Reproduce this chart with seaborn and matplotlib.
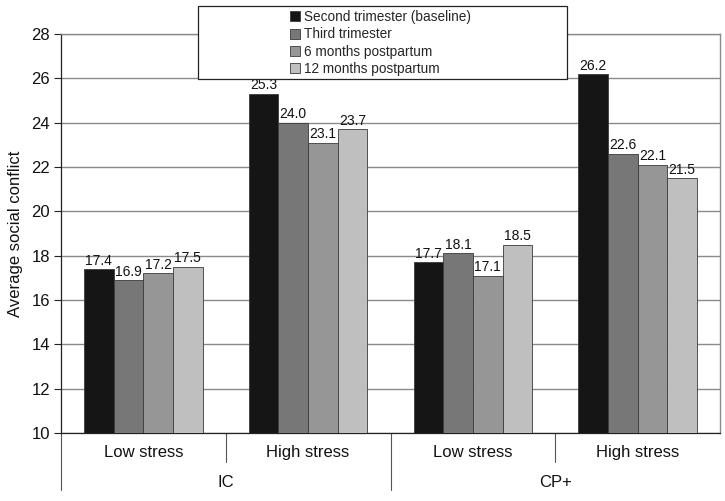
import matplotlib
matplotlib.use("Agg")
import matplotlib.pyplot as plt
import matplotlib.transforms as mtransforms
from matplotlib.patches import Rectangle
import seaborn as sns
import pandas as pd

# ---- data ----
groups = ["IC", "CP+"]
stress_levels = ["Low stress", "High stress"]
timepoints = ["Second trimester (baseline)", "Third trimester",
              "6 months postpartum", "12 months postpartum"]
ic_low = [17.4, 16.9, 17.2, 17.5]
ic_high = [25.3, 24.0, 23.1, 23.7]
cp_low = [17.7, 18.1, 17.1, 18.5]
cp_high = [26.2, 22.6, 22.1, 21.5]
y_ticks = [10, 12, 14, 16, 18, 20, 22, 24, 26, 28]
colors = ["#151515", "#777777", "#969696", "#bfbfbf"]

series = {("IC", "Low stress"): ic_low, ("IC", "High stress"): ic_high,
          ("CP+", "Low stress"): cp_low, ("CP+", "High stress"): cp_high}
rows = []
order = []
for g in groups:
    for s in stress_levels:
        key = f"{g} | {s}"
        order.append(key)
        for t, v in zip(timepoints, series[(g, s)]):
            rows.append({"cat": key, "time": t, "value": v})
df = pd.DataFrame(rows)

sns.set_theme(style="white")
plt.rcParams["font.family"] = ["Liberation Sans", "DejaVu Sans"]

fig = plt.figure(figsize=(7.25, 5.01), dpi=100)
ax = fig.add_axes([61/725, 1-433/501, (720-61)/725, (433-34)/501])

sns.barplot(data=df, x="cat", y="value", hue="time", order=order,
            hue_order=timepoints, palette=colors, width=0.72, gap=0,
            edgecolor="#3a3a3a", linewidth=0.6, ax=ax, legend=True, zorder=3)

for c in ax.containers:
    ax.bar_label(c, fmt="%.1f", padding=1, fontsize=10, color="#111111")

ax.set_ylim(10, 28)
ax.set_yticks(y_ticks)
ax.tick_params(axis="y", labelsize=12, length=5, width=0.8, color="#222222",
               left=True, pad=3, labelcolor="#111111")
ax.yaxis.grid(True, color="#8a8a8a", linewidth=1.0, zorder=0)
ax.set_axisbelow(True)
ax.set_xticks(range(len(order)))
ax.set_xticklabels([])
ax.tick_params(axis="x", length=0)
ax.set_xlabel("")
ax.set_ylabel("Average social conflict", fontsize=12, labelpad=6,
              color="#111111")
ax.set_xlim(-0.5, 3.5)

for sp in ["top", "right"]:
    ax.spines[sp].set_color("#8a8a8a")
    ax.spines[sp].set_linewidth(1.0)
for sp in ["left", "bottom"]:
    ax.spines[sp].set_color("#222222")
    ax.spines[sp].set_linewidth(0.9)

# two-level category axis
trans = mtransforms.blended_transform_factory(ax.transData, ax.transAxes)
sub_y = -0.048
grp_y = -0.123
for i, key in enumerate(order):
    ax.text(i, sub_y, key.split(" | ")[1], transform=trans, ha="center",
            va="center", fontsize=12, color="#111111")
for j, g in enumerate(groups):
    ax.text(2*j + 0.5, grp_y, g, transform=trans, ha="center", va="center",
            fontsize=12, color="#111111")
for x in [0.5, 2.5]:
    ax.plot([x, x], [0, -0.0727], transform=trans, color="#555555",
            linewidth=0.8, clip_on=False)
for x in [-0.5, 1.5]:
    ax.plot([x, x], [0, -0.143], transform=trans, color="#555555",
            linewidth=0.8, clip_on=False)

# legend with box
leg = ax.legend(loc="upper left", bbox_to_anchor=(280/725, 1-0.5/501),
                bbox_transform=fig.transFigure, frameon=False, fontsize=9.8,
                handlelength=0.75, handleheight=0.75, handletextpad=0.35,
                labelspacing=0.24, borderpad=0.2, title=None)
for h in leg.legend_handles:
    h.set_edgecolor("#3a3a3a")
    h.set_linewidth(0.6)
leg.set_zorder(10)
box = Rectangle((198/725, 1-79/501), (567-198)/725, (79-6)/501,
                transform=fig.transFigure, facecolor="white",
                edgecolor="#222222", linewidth=0.9, zorder=9)
fig.patches.append(box)
leg.remove()
fig.legends.append(leg)
leg.set_figure(fig)

fig.savefig("out.png", dpi=100)
